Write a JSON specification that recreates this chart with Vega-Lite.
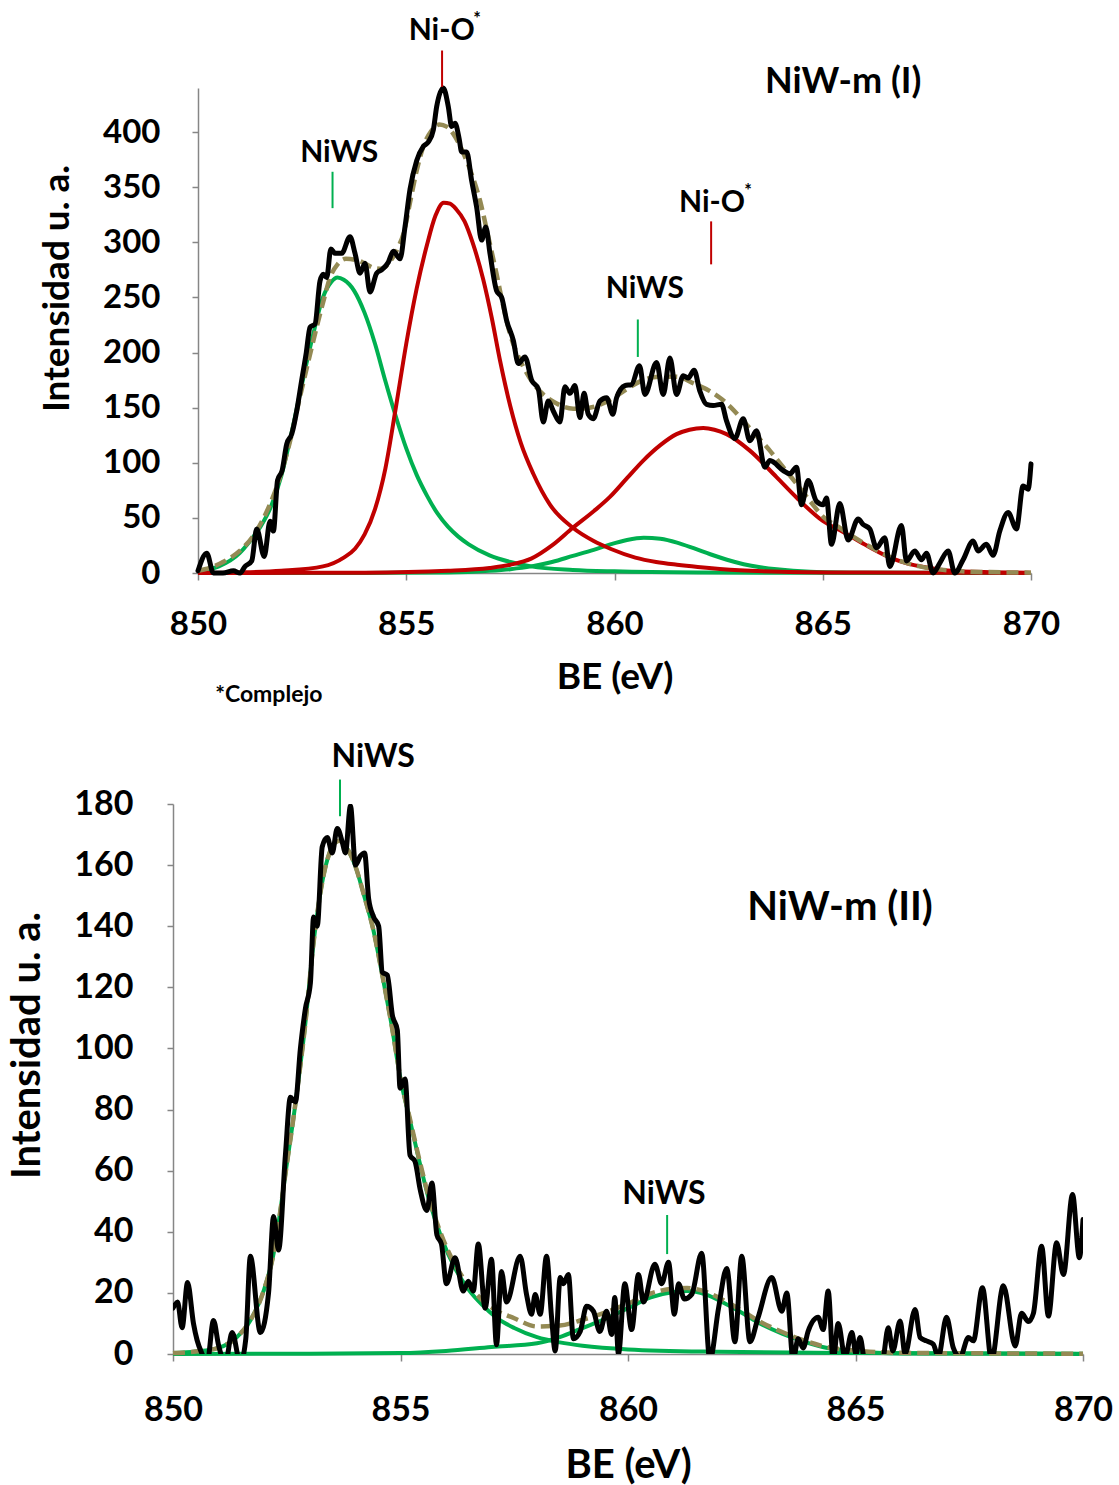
{
  "$schema": "https://vega.github.io/schema/vega-lite/v6.json",
  "background": "white",
  "padding": {"left": 7, "top": 10, "right": 0, "bottom": 0},
  "spacing": 231,
  "bounds": "flush",
  "config": {
    "view": {"stroke": null},
    "font": "Lato",
    "axis": {
      "labelFont": "Lato", "labelFontWeight": "bold", "labelColor": "#000000",
      "titleFont": "Lato", "titleFontWeight": "bold", "titleColor": "#000000",
      "domainColor": "#868686", "tickColor": "#868686", "domainWidth": 1.5, "tickWidth": 1.5,
      "grid": false, "labelFlush": false, "labelOverlap": false
    }
  },
  "datasets": {
    "top_green": [
      {"c":"g1","x":850,"y":2},{"c":"g1","x":850.5,"y":6},{"c":"g1","x":851,"y":18},{"c":"g1","x":851.25,"y":29},{"c":"g1","x":851.5,"y":42},{"c":"g1","x":851.75,"y":60},{"c":"g1","x":852,"y":88},{"c":"g1","x":852.25,"y":128},{"c":"g1","x":852.5,"y":172},{"c":"g1","x":852.75,"y":214},{"c":"g1","x":853,"y":250},{"c":"g1","x":853.2,"y":264},{"c":"g1","x":853.35,"y":268},{"c":"g1","x":853.5,"y":266},{"c":"g1","x":853.75,"y":256},{"c":"g1","x":854,"y":236},{"c":"g1","x":854.25,"y":208},{"c":"g1","x":854.5,"y":174},{"c":"g1","x":854.75,"y":142},{"c":"g1","x":855,"y":113},{"c":"g1","x":855.25,"y":89},{"c":"g1","x":855.5,"y":70},{"c":"g1","x":855.75,"y":54},{"c":"g1","x":856,"y":42},{"c":"g1","x":856.25,"y":33},{"c":"g1","x":856.5,"y":26},{"c":"g1","x":857,"y":16},{"c":"g1","x":857.5,"y":10},{"c":"g1","x":858,"y":6},{"c":"g1","x":859,"y":2.8},{"c":"g1","x":860,"y":1.5},{"c":"g1","x":862,"y":0.5},{"c":"g1","x":865,"y":0.2},{"c":"g1","x":870,"y":0},
      {"c":"g2","x":850,"y":0},{"c":"g2","x":854,"y":0.1},{"c":"g2","x":856,"y":0.5},{"c":"g2","x":857,"y":2},{"c":"g2","x":857.5,"y":3.5},{"c":"g2","x":858,"y":6},{"c":"g2","x":858.5,"y":10},{"c":"g2","x":859,"y":15.5},{"c":"g2","x":859.5,"y":21},{"c":"g2","x":859.9,"y":26},{"c":"g2","x":860.3,"y":30},{"c":"g2","x":860.7,"y":32},{"c":"g2","x":861.1,"y":31},{"c":"g2","x":861.5,"y":27.6},{"c":"g2","x":861.9,"y":22.5},{"c":"g2","x":862.3,"y":17},{"c":"g2","x":862.7,"y":12},{"c":"g2","x":863.1,"y":8},{"c":"g2","x":863.5,"y":5.2},{"c":"g2","x":863.9,"y":3.3},{"c":"g2","x":864.7,"y":1.2},{"c":"g2","x":866,"y":0.3},{"c":"g2","x":870,"y":0}
    ],
    "top_red": [
      {"c":"r1","x":850,"y":0},{"c":"r1","x":851,"y":0.5},{"c":"r1","x":852,"y":2},{"c":"r1","x":853,"y":6},{"c":"r1","x":853.5,"y":14},{"c":"r1","x":853.77,"y":22},{"c":"r1","x":854,"y":35},{"c":"r1","x":854.25,"y":58},{"c":"r1","x":854.5,"y":95},{"c":"r1","x":854.75,"y":150},{"c":"r1","x":855,"y":208},{"c":"r1","x":855.25,"y":258},{"c":"r1","x":855.5,"y":298},{"c":"r1","x":855.7,"y":324},{"c":"r1","x":855.9,"y":336},{"c":"r1","x":856.05,"y":335},{"c":"r1","x":856.2,"y":330},{"c":"r1","x":856.4,"y":319},{"c":"r1","x":856.6,"y":299},{"c":"r1","x":856.85,"y":266},{"c":"r1","x":857.05,"y":232},{"c":"r1","x":857.25,"y":193},{"c":"r1","x":857.5,"y":151},{"c":"r1","x":857.75,"y":118},{"c":"r1","x":858.05,"y":90},{"c":"r1","x":858.45,"y":62},{"c":"r1","x":859,"y":41},{"c":"r1","x":859.5,"y":29},{"c":"r1","x":859.9,"y":22},{"c":"r1","x":860.5,"y":14},{"c":"r1","x":861,"y":10},{"c":"r1","x":861.5,"y":7.5},{"c":"r1","x":862,"y":5.5},{"c":"r1","x":863,"y":2.5},{"c":"r1","x":864,"y":1.2},{"c":"r1","x":866,"y":0.4},{"c":"r1","x":870,"y":0.1},
      {"c":"r2","x":850,"y":0},{"c":"r2","x":854,"y":0.3},{"c":"r2","x":856,"y":2},{"c":"r2","x":857,"y":4.5},{"c":"r2","x":857.5,"y":7.5},{"c":"r2","x":858,"y":13},{"c":"r2","x":858.5,"y":25},{"c":"r2","x":859,"y":41},{"c":"r2","x":859.5,"y":56},{"c":"r2","x":859.89,"y":69},{"c":"r2","x":860.3,"y":86},{"c":"r2","x":860.69,"y":102},{"c":"r2","x":861.1,"y":116},{"c":"r2","x":861.49,"y":126},{"c":"r2","x":861.8,"y":130},{"c":"r2","x":862.13,"y":131.5},{"c":"r2","x":862.4,"y":130},{"c":"r2","x":862.69,"y":126},{"c":"r2","x":863.25,"y":111},{"c":"r2","x":863.89,"y":87},{"c":"r2","x":864.37,"y":68.5},{"c":"r2","x":865.01,"y":47},{"c":"r2","x":865.5,"y":37},{"c":"r2","x":866,"y":26},{"c":"r2","x":866.5,"y":16},{"c":"r2","x":867,"y":9},{"c":"r2","x":867.5,"y":5},{"c":"r2","x":868,"y":2.3},{"c":"r2","x":869,"y":0.7},{"c":"r2","x":870,"y":0.2}
    ],
    "top_env": [
      {"x":850,"y":2},{"x":850.3,"y":5},{"x":850.6,"y":10},{"x":851,"y":20},{"x":851.35,"y":35},{"x":851.7,"y":60},{"x":851.97,"y":87},{"x":852.2,"y":118},{"x":852.45,"y":160},{"x":852.65,"y":192},{"x":852.85,"y":223},{"x":853,"y":245},{"x":853.17,"y":268},{"x":853.35,"y":280},{"x":853.55,"y":285},{"x":853.8,"y":284},{"x":854,"y":281},{"x":854.2,"y":277},{"x":854.4,"y":276},{"x":854.6,"y":282},{"x":854.8,"y":295},{"x":854.95,"y":310},{"x":855.09,"y":336},{"x":855.25,"y":365},{"x":855.41,"y":387},{"x":855.6,"y":401},{"x":855.8,"y":407},{"x":855.97,"y":405},{"x":856.17,"y":396},{"x":856.37,"y":381},{"x":856.57,"y":362},{"x":856.77,"y":338},{"x":856.97,"y":305},{"x":857.17,"y":271},{"x":857.33,"y":242},{"x":857.49,"y":217},{"x":857.65,"y":200},{"x":857.81,"y":187},{"x":858.05,"y":172},{"x":858.29,"y":162},{"x":858.6,"y":154},{"x":859.01,"y":149},{"x":859.4,"y":150},{"x":859.89,"y":157},{"x":860.3,"y":167},{"x":860.69,"y":175},{"x":861.1,"y":178},{"x":861.49,"y":178},{"x":861.9,"y":172},{"x":862.29,"y":165},{"x":862.53,"y":159},{"x":862.8,"y":150},{"x":863.09,"y":138},{"x":863.4,"y":125},{"x":863.73,"y":111},{"x":864.05,"y":96},{"x":864.37,"y":81},{"x":864.7,"y":65},{"x":865.01,"y":51},{"x":865.37,"y":42},{"x":865.73,"y":33},{"x":866.13,"y":24},{"x":866.53,"y":16},{"x":866.93,"y":10},{"x":867.33,"y":6},{"x":867.7,"y":3.5},{"x":868.13,"y":2},{"x":869,"y":0.8},{"x":870,"y":0.3}
    ],
    "top_data": [
      {"x":850.0,"y":2},{"x":850.21,"y":18},{"x":850.37,"y":0},{"x":850.6,"y":0},{"x":850.85,"y":2},{"x":851.01,"y":0},{"x":851.13,"y":6},{"x":851.29,"y":11},{"x":851.41,"y":40},{"x":851.59,"y":15},{"x":851.73,"y":47},{"x":851.81,"y":38},{"x":851.91,"y":84},{"x":852.02,"y":93},{"x":852.13,"y":117},{"x":852.25,"y":126},{"x":852.37,"y":147},{"x":852.49,"y":175},{"x":852.6,"y":200},{"x":852.69,"y":223},{"x":852.81,"y":226},{"x":852.93,"y":265},{"x":853.01,"y":271},{"x":853.09,"y":268},{"x":853.19,"y":294},{"x":853.29,"y":290},{"x":853.45,"y":290},{"x":853.65,"y":305},{"x":853.77,"y":290},{"x":853.89,"y":272},{"x":854.01,"y":281},{"x":854.13,"y":255},{"x":854.29,"y":272},{"x":854.41,"y":275},{"x":854.57,"y":282},{"x":854.69,"y":292},{"x":854.85,"y":285},{"x":854.97,"y":314},{"x":855.09,"y":348},{"x":855.25,"y":374},{"x":855.41,"y":387},{"x":855.53,"y":391},{"x":855.65,"y":402},{"x":855.73,"y":423},{"x":855.89,"y":440},{"x":856.01,"y":423},{"x":856.09,"y":405},{"x":856.17,"y":408},{"x":856.27,"y":394},{"x":856.33,"y":382},{"x":856.45,"y":382},{"x":856.57,"y":356},{"x":856.69,"y":332},{"x":856.81,"y":302},{"x":856.91,"y":314},{"x":857.01,"y":290},{"x":857.17,"y":256},{"x":857.29,"y":250},{"x":857.41,"y":229},{"x":857.57,"y":211},{"x":857.69,"y":190},{"x":857.85,"y":196},{"x":858.01,"y":175},{"x":858.17,"y":167},{"x":858.29,"y":137},{"x":858.41,"y":156},{"x":858.53,"y":147},{"x":858.69,"y":137},{"x":858.81,"y":169},{"x":858.93,"y":163},{"x":859.05,"y":170},{"x":859.17,"y":141},{"x":859.27,"y":163},{"x":859.37,"y":144},{"x":859.49,"y":140},{"x":859.65,"y":156},{"x":859.81,"y":159},{"x":859.96,"y":144},{"x":860.05,"y":159},{"x":860.25,"y":170},{"x":860.41,"y":171},{"x":860.6,"y":188},{"x":860.73,"y":162},{"x":861.01,"y":191},{"x":861.17,"y":162},{"x":861.33,"y":195},{"x":861.49,"y":162},{"x":861.65,"y":179},{"x":861.77,"y":177},{"x":861.91,"y":184},{"x":862.05,"y":165},{"x":862.21,"y":153},{"x":862.37,"y":152},{"x":862.57,"y":153},{"x":862.69,"y":138},{"x":862.89,"y":122},{"x":863.09,"y":140},{"x":863.25,"y":120},{"x":863.41,"y":129},{"x":863.61,"y":96},{"x":863.73,"y":102},{"x":864.05,"y":93},{"x":864.21,"y":90},{"x":864.37,"y":96},{"x":864.49,"y":62},{"x":864.65,"y":84},{"x":864.85,"y":65},{"x":865.01,"y":62},{"x":865.09,"y":68},{"x":865.21,"y":26},{"x":865.41,"y":63},{"x":865.61,"y":30},{"x":865.85,"y":49},{"x":865.97,"y":44},{"x":866.13,"y":40},{"x":866.29,"y":23},{"x":866.49,"y":32},{"x":866.61,"y":6},{"x":866.89,"y":43},{"x":867.01,"y":11},{"x":867.21,"y":20},{"x":867.37,"y":12},{"x":867.49,"y":18},{"x":867.65,"y":0},{"x":867.81,"y":9},{"x":868.01,"y":20},{"x":868.17,"y":0},{"x":868.37,"y":12},{"x":868.61,"y":29},{"x":868.73,"y":20},{"x":868.93,"y":26},{"x":869.09,"y":16},{"x":869.25,"y":38},{"x":869.45,"y":55},{"x":869.65,"y":40},{"x":869.81,"y":79},{"x":869.93,"y":76},{"x":870.0,"y":99}
    ],
    "bot_green": [
      {"c":"g1","x":850,"y":0.3},{"c":"g1","x":850.5,"y":0.8},{"c":"g1","x":851,"y":2},{"c":"g1","x":851.4,"y":5.5},{"c":"g1","x":851.7,"y":11},{"c":"g1","x":852,"y":21},{"c":"g1","x":852.2,"y":32},{"c":"g1","x":852.5,"y":62},{"c":"g1","x":852.7,"y":83},{"c":"g1","x":852.9,"y":107},{"c":"g1","x":853.1,"y":136},{"c":"g1","x":853.3,"y":156},{"c":"g1","x":853.5,"y":166},{"c":"g1","x":853.65,"y":168},{"c":"g1","x":853.8,"y":166},{"c":"g1","x":854,"y":160},{"c":"g1","x":854.2,"y":150},{"c":"g1","x":854.4,"y":139},{"c":"g1","x":854.6,"y":124},{"c":"g1","x":854.8,"y":108},{"c":"g1","x":855,"y":90},{"c":"g1","x":855.2,"y":77},{"c":"g1","x":855.4,"y":64},{"c":"g1","x":855.6,"y":52},{"c":"g1","x":855.9,"y":38},{"c":"g1","x":856.2,"y":28},{"c":"g1","x":856.5,"y":21},{"c":"g1","x":856.8,"y":16},{"c":"g1","x":857.1,"y":12},{"c":"g1","x":857.5,"y":8.5},{"c":"g1","x":858,"y":5.5},{"c":"g1","x":858.5,"y":3.8},{"c":"g1","x":859,"y":2.7},{"c":"g1","x":860,"y":1.5},{"c":"g1","x":862,"y":0.7},{"c":"g1","x":865,"y":0.3},{"c":"g1","x":870,"y":0.1},
      {"c":"g2","x":850,"y":0},{"c":"g2","x":853,"y":0.1},{"c":"g2","x":855,"y":0.3},{"c":"g2","x":856,"y":1},{"c":"g2","x":857,"y":2.3},{"c":"g2","x":858,"y":3.5},{"c":"g2","x":858.5,"y":5.5},{"c":"g2","x":859,"y":8.5},{"c":"g2","x":859.5,"y":11.5},{"c":"g2","x":860,"y":15},{"c":"g2","x":860.5,"y":18.5},{"c":"g2","x":861,"y":20.3},{"c":"g2","x":861.3,"y":20.6},{"c":"g2","x":861.7,"y":19.5},{"c":"g2","x":862.1,"y":16.8},{"c":"g2","x":862.5,"y":13.5},{"c":"g2","x":862.9,"y":10},{"c":"g2","x":863.4,"y":6.6},{"c":"g2","x":863.8,"y":4.4},{"c":"g2","x":864.3,"y":2.2},{"c":"g2","x":865,"y":0.8},{"c":"g2","x":866,"y":0.2},{"c":"g2","x":870,"y":0}
    ],
    "bot_env": [
      {"x":850,"y":0.3},{"x":850.5,"y":0.8},{"x":851,"y":2},{"x":851.4,"y":5.5},{"x":851.7,"y":11},{"x":852,"y":21},{"x":852.2,"y":32},{"x":852.5,"y":62},{"x":852.7,"y":83},{"x":852.9,"y":107},{"x":853.1,"y":136},{"x":853.3,"y":156},{"x":853.5,"y":166},{"x":853.65,"y":168},{"x":853.8,"y":166},{"x":854,"y":160},{"x":854.2,"y":150},{"x":854.4,"y":139},{"x":854.6,"y":124},{"x":854.8,"y":108},{"x":855,"y":90.3},{"x":855.2,"y":77.4},{"x":855.4,"y":64.5},{"x":855.6,"y":52.6},{"x":855.9,"y":38.9},{"x":856.2,"y":29.2},{"x":856.5,"y":22.5},{"x":856.8,"y":17.6},{"x":857.1,"y":14.3},{"x":857.5,"y":11.7},{"x":858,"y":9},{"x":858.5,"y":9.3},{"x":859,"y":11.2},{"x":859.5,"y":13.6},{"x":860,"y":16.5},{"x":860.5,"y":19.8},{"x":861,"y":21.4},{"x":861.3,"y":21.6},{"x":861.7,"y":20.4},{"x":862.1,"y":17.6},{"x":862.5,"y":14.2},{"x":862.9,"y":10.6},{"x":863.4,"y":7.1},{"x":863.8,"y":4.8},{"x":864.3,"y":2.5},{"x":865,"y":1.1},{"x":866,"y":0.4},{"x":870,"y":0.1}
    ],
    "bot_data": [
      {"x":850.0,"y":15},{"x":850.1,"y":17},{"x":850.2,"y":8.6},{"x":850.32,"y":23.4},{"x":850.45,"y":10},{"x":850.53,"y":4.5},{"x":850.64,"y":0},{"x":850.75,"y":-3},{"x":850.89,"y":11},{"x":851.0,"y":3},{"x":851.15,"y":-3},{"x":851.3,"y":7},{"x":851.48,"y":-3},{"x":851.6,"y":5},{"x":851.7,"y":32},{"x":851.92,"y":7},{"x":852.1,"y":20},{"x":852.21,"y":45},{"x":852.32,"y":34},{"x":852.47,"y":65},{"x":852.58,"y":84},{"x":852.69,"y":82.5},{"x":852.8,"y":100},{"x":852.91,"y":113},{"x":853.02,"y":121.5},{"x":853.09,"y":143},{"x":853.17,"y":140},{"x":853.28,"y":166},{"x":853.39,"y":169},{"x":853.5,"y":164},{"x":853.61,"y":172},{"x":853.72,"y":167.6},{"x":853.79,"y":164},{"x":853.9,"y":179.4},{"x":854.01,"y":160},{"x":854.12,"y":163},{"x":854.21,"y":164},{"x":854.3,"y":149},{"x":854.41,"y":143},{"x":854.52,"y":140},{"x":854.6,"y":125},{"x":854.71,"y":124},{"x":854.82,"y":111},{"x":854.93,"y":106},{"x":854.99,"y":87},{"x":855.1,"y":90},{"x":855.21,"y":65},{"x":855.32,"y":63},{"x":855.43,"y":54},{"x":855.58,"y":47},{"x":855.69,"y":56},{"x":855.8,"y":39},{"x":855.9,"y":36},{"x":856.01,"y":23},{"x":856.2,"y":31.5},{"x":856.38,"y":20.6},{"x":856.49,"y":23.8},{"x":856.6,"y":20.6},{"x":856.71,"y":36},{"x":856.86,"y":15},{"x":857.0,"y":31},{"x":857.11,"y":3},{"x":857.22,"y":27},{"x":857.33,"y":17},{"x":857.63,"y":32},{"x":857.77,"y":19.5},{"x":857.88,"y":13},{"x":857.96,"y":19.5},{"x":858.07,"y":13},{"x":858.21,"y":32},{"x":858.32,"y":12},{"x":858.4,"y":1},{"x":858.51,"y":25},{"x":858.58,"y":23},{"x":858.69,"y":26},{"x":858.8,"y":5},{"x":858.95,"y":7.4},{"x":859.09,"y":15.6},{"x":859.24,"y":14},{"x":859.38,"y":7.4},{"x":859.53,"y":14},{"x":859.64,"y":6.4},{"x":859.71,"y":18.5},{"x":859.79,"y":0},{"x":859.93,"y":23},{"x":860.08,"y":8},{"x":860.23,"y":26},{"x":860.34,"y":17},{"x":860.59,"y":29.4},{"x":860.74,"y":23},{"x":860.89,"y":30},{"x":861.02,"y":13},{"x":861.11,"y":23},{"x":861.24,"y":18},{"x":861.4,"y":19.5},{"x":861.62,"y":33},{"x":861.8,"y":-2},{"x":861.99,"y":15},{"x":862.17,"y":28},{"x":862.35,"y":4},{"x":862.5,"y":32},{"x":862.68,"y":4},{"x":862.86,"y":12},{"x":863.16,"y":25},{"x":863.38,"y":14},{"x":863.49,"y":20},{"x":863.63,"y":-2},{"x":863.74,"y":5},{"x":863.85,"y":2},{"x":863.96,"y":7.5},{"x":864.18,"y":12},{"x":864.29,"y":8},{"x":864.4,"y":20.6},{"x":864.51,"y":-2},{"x":864.62,"y":10},{"x":864.77,"y":-1},{"x":864.92,"y":7},{"x":865.01,"y":0},{"x":865.1,"y":5.4},{"x":865.21,"y":-3},{"x":865.45,"y":-5},{"x":865.6,"y":-2},{"x":865.72,"y":8.6},{"x":865.82,"y":1},{"x":865.98,"y":10.8},{"x":866.09,"y":0},{"x":866.31,"y":14.6},{"x":866.42,"y":5.4},{"x":866.56,"y":4.3},{"x":866.71,"y":3.2},{"x":866.82,"y":-1},{"x":867.0,"y":12},{"x":867.15,"y":2},{"x":867.3,"y":-1},{"x":867.48,"y":5.4},{"x":867.59,"y":4.3},{"x":867.79,"y":21.7},{"x":867.99,"y":-2},{"x":868.25,"y":22.3},{"x":868.51,"y":2.6},{"x":868.65,"y":13.3},{"x":868.8,"y":10.6},{"x":868.91,"y":13.3},{"x":869.09,"y":35.3},{"x":869.24,"y":12.4},{"x":869.42,"y":36.4},{"x":869.57,"y":26},{"x":869.77,"y":52.2},{"x":869.92,"y":31.5},{"x":870.0,"y":44}
    ]
  },
  "vconcat": [
    {
      "width": 858,
      "height": 485,
      "encoding": {
        "x": {"field": "x", "type": "quantitative",
          "scale": {"domain": [850, 870], "range": [25, 858], "nice": false, "zero": false},
          "axis": {"values": [850, 855, 860, 865, 870], "format": "d", "title": "BE (eV)", "labelFontSize": 33, "titleFontSize": 37, "tickSize": 7, "labelPadding": 28, "titlePadding": 18}},
        "y": {"field": "y", "type": "quantitative",
          "scale": {"domain": [0, 440], "nice": false},
          "axis": {"values": [0, 50, 100, 150, 200, 250, 300, 350, 400], "title": "Intensidad u. a.", "titleY": 200, "offset": -25, "labelFontSize": 33, "titleFontSize": 37, "tickSize": 6, "labelPadding": 32, "titlePadding": 26}}
      },
      "layer": [
        {"data": {"name": "top_green"}, "mark": {"type": "line", "color": "#00B050", "strokeWidth": 4, "interpolate": "monotone"}, "encoding": {"detail": {"field": "c"}}},
        {"data": {"name": "top_red"}, "mark": {"type": "line", "color": "#C00000", "strokeWidth": 4, "interpolate": "monotone"}, "encoding": {"detail": {"field": "c"}}},
        {"data": {"name": "top_env"}, "mark": {"type": "line", "color": "#948A54", "strokeWidth": 4.5, "strokeDash": [12, 6], "interpolate": "monotone"}},
        {"data": {"name": "top_data"}, "mark": {"type": "line", "color": "#000000", "strokeWidth": 5, "interpolate": "monotone", "strokeJoin": "round", "strokeCap": "round"}},
        {"data": {"values": [{"x": 853.23, "y": 331, "y2": 364}, {"x": 860.56, "y": 196, "y2": 230}]}, "mark": {"type": "rule", "color": "#00B050", "strokeWidth": 2}, "encoding": {"y2": {"field": "y2"}}},
        {"data": {"values": [{"x": 855.86, "y": 441, "y2": 474}, {"x": 862.32, "y": 280, "y2": 319}]}, "mark": {"type": "rule", "color": "#C00000", "strokeWidth": 2}, "encoding": {"y2": {"field": "y2"}}},
        {"data": {"values": [{"x": 853.39, "y": 381, "t": "NiWS"}, {"x": 860.73, "y": 258, "t": "NiWS"}, {"x": 855.85, "y": 492, "t": "Ni-O"}, {"x": 862.34, "y": 336, "t": "Ni-O"}]}, "mark": {"type": "text", "font": "Lato", "fontWeight": "bold", "fontSize": 30, "align": "center", "baseline": "middle", "color": "#000000"}, "encoding": {"text": {"field": "t"}}},
        {"data": {"values": [{"x": 856.70, "y": 502, "t": "*"}, {"x": 863.21, "y": 346, "t": "*"}]}, "mark": {"type": "text", "font": "Lato", "fontWeight": "bold", "fontSize": 18, "align": "center", "baseline": "middle", "color": "#000000"}, "encoding": {"text": {"field": "t"}}},
        {"data": {"values": [{"x": 865.49, "y": 445.5, "t": "NiW-m (I)"}]}, "mark": {"type": "text", "font": "Lato", "fontWeight": "bold", "fontSize": 36, "align": "center", "baseline": "middle", "color": "#000000"}, "encoding": {"text": {"field": "t"}}},
        {"data": {"values": [{"x": 851.70, "y": -111, "t": "*Complejo"}]}, "mark": {"type": "text", "font": "Lato", "fontWeight": "bold", "fontSize": 23, "align": "center", "baseline": "middle", "color": "#000000"}, "encoding": {"text": {"field": "t"}}}
      ]
    },
    {
      "width": 910,
      "height": 550,
      "encoding": {
        "x": {"field": "x", "type": "quantitative",
          "scale": {"domain": [850, 870], "nice": false, "zero": false},
          "axis": {"values": [850, 855, 860, 865, 870], "format": "d", "title": "BE (eV)", "labelFontSize": 34, "titleFontSize": 40, "tickSize": 7, "labelPadding": 32, "titlePadding": 18}},
        "y": {"field": "y", "type": "quantitative",
          "scale": {"domain": [0, 180], "nice": false},
          "axis": {"values": [0, 20, 40, 60, 80, 100, 120, 140, 160, 180], "title": "Intensidad u. a.", "titleY": 241, "labelFontSize": 34, "titleFontSize": 40, "tickSize": 6, "labelPadding": 34, "titlePadding": 26}}
      },
      "layer": [
        {"data": {"name": "bot_green"}, "mark": {"type": "line", "color": "#00B050", "strokeWidth": 4, "interpolate": "monotone"}, "encoding": {"detail": {"field": "c"}}},
        {"data": {"name": "bot_env"}, "mark": {"type": "line", "color": "#948A54", "strokeWidth": 4.5, "strokeDash": [12, 6], "interpolate": "monotone"}},
        {"data": {"name": "bot_data"}, "mark": {"type": "line", "color": "#000000", "strokeWidth": 5, "interpolate": "monotone", "clip": true, "strokeJoin": "round", "strokeCap": "round"}},
        {"data": {"values": [{"x": 853.67, "y": 176, "y2": 188}, {"x": 860.86, "y": 32.7, "y2": 45.5}]}, "mark": {"type": "rule", "color": "#00B050", "strokeWidth": 2}, "encoding": {"y2": {"field": "y2"}}},
        {"data": {"values": [{"x": 854.40, "y": 195.4, "t": "NiWS"}, {"x": 860.79, "y": 52.4, "t": "NiWS"}]}, "mark": {"type": "text", "font": "Lato", "fontWeight": "bold", "fontSize": 32, "align": "center", "baseline": "middle", "color": "#000000"}, "encoding": {"text": {"field": "t"}}},
        {"data": {"values": [{"x": 864.66, "y": 146, "t": "NiW-m (II)"}]}, "mark": {"type": "text", "font": "Lato", "fontWeight": "bold", "fontSize": 40, "align": "center", "baseline": "middle", "color": "#000000"}, "encoding": {"text": {"field": "t"}}}
      ]
    }
  ]
}
